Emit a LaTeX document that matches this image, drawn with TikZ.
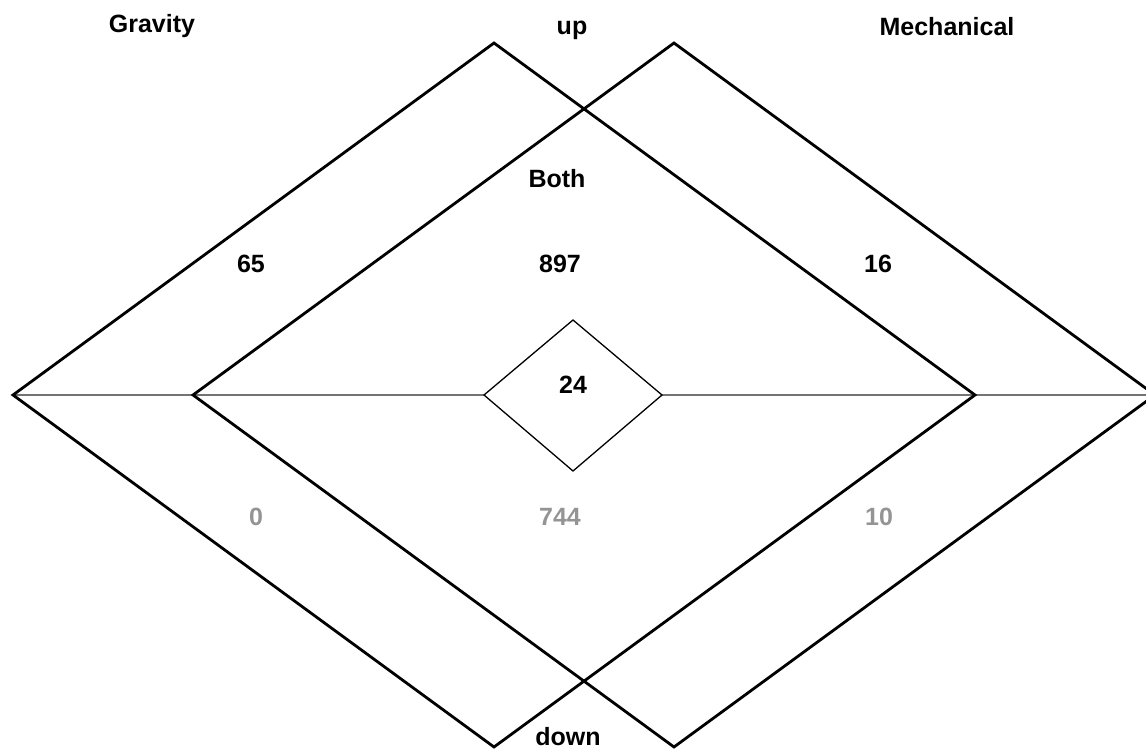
\documentclass[tikz,border=0pt]{standalone}
\usepackage{fontspec}
\setmainfont{Liberation Sans}
\begin{document}
\begin{tikzpicture}[x=1pt,y=-1pt,
  bigdiamond/.style={line width=2.8pt,line join=miter},
  smalldiamond/.style={line width=1.3pt,line join=miter},
  axisline/.style={line width=1.8pt,draw=black!55},
  lbl/.style={font=\fontsize{25}{30}\selectfont\bfseries,anchor=base,inner sep=0pt},
  graylbl/.style={lbl,text=black!42}]
\useasboundingbox (0,0) rectangle (1146,751);
\clip (0,0) rectangle (1146,751);

% vertices of the two large diamonds
\coordinate (gW) at (13,395);
\coordinate (gN) at (494,43);
\coordinate (gE) at (975,395);
\coordinate (gS) at (494,747);
\coordinate (mW) at (193,395);
\coordinate (mN) at (674,43);
\coordinate (mE) at (1155,395);
\coordinate (mS) at (674,747);
% vertices of the small central diamond
\coordinate (cW) at (484,395);
\coordinate (cN) at (573,320);
\coordinate (cE) at (662,395);
\coordinate (cS) at (573,471);

% horizontal axis through the middle
\draw[axisline] (gW) -- (cW);
\draw[axisline] (cE) -- (mE);

% diamonds
\draw[bigdiamond] (gW) -- (gN) -- (gE) -- (gS) -- cycle;
\draw[bigdiamond] (mW) -- (mN) -- (mE) -- (mS) -- cycle;
\draw[smalldiamond] (cW) -- (cN) -- (cE) -- (cS) -- cycle;

% headings
\node[lbl] (gravity) at (152,33) {Gravity};
\node[lbl] (up) at (572,35) {up};
\node[lbl] (mechanical) at (947,36) {Mechanical};
\node[lbl] (down) at (568,745) {down};
\node[lbl] (both) at (557,188) {Both};

% counts above the axis
\node[lbl] (gup) at (251,273) {65};
\node[lbl] (bup) at (560,273) {897};
\node[lbl] (mup) at (878,273) {16};
\node[lbl] (center) at (573,393) {24};

% counts below the axis
\node[graylbl] (gdown) at (256,525) {0};
\node[graylbl] (bdown) at (560,525) {744};
\node[graylbl] (mdown) at (879,525) {10};
\end{tikzpicture}
\end{document}
